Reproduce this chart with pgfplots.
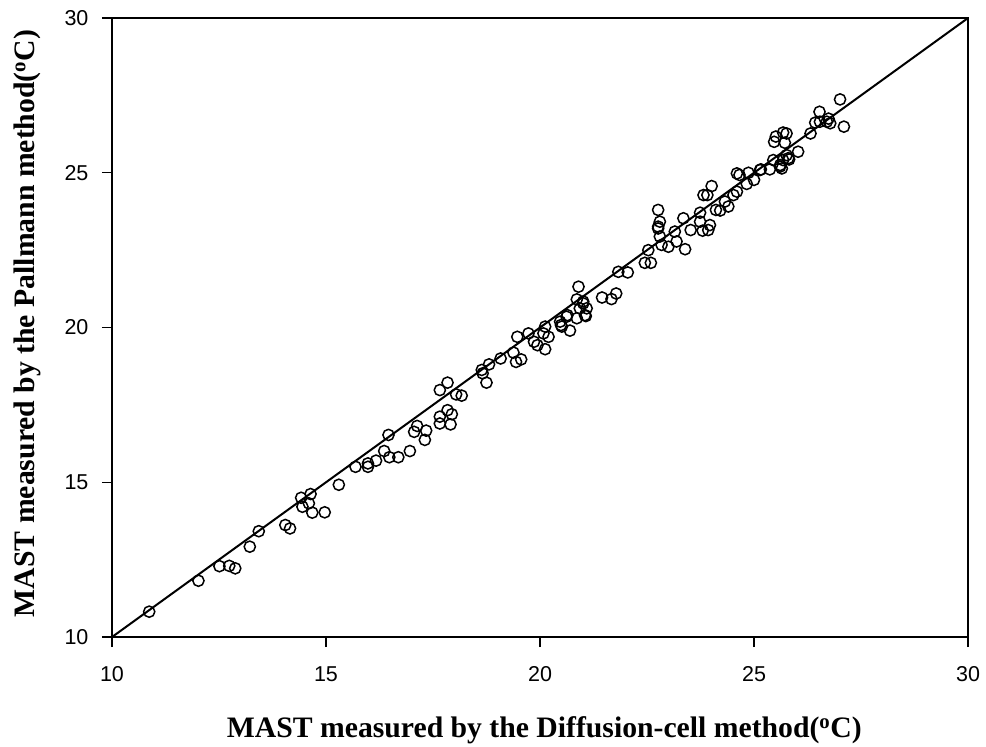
\documentclass[border=0pt]{standalone}
\usepackage{pgfplots}
\pgfplotsset{compat=1.18}
\usepackage{fontspec}
\setmainfont{Liberation Serif}
\newfontfamily\arialfont{Liberation Sans}
\begin{document}
\begin{tikzpicture}
\begin{axis}[
  scale only axis,
  width=856pt, height=619pt,
  xmin=10, xmax=30, ymin=10, ymax=30,
  xtick={10,15,20,25,30}, ytick={10,15,20,25,30},
  tick pos=left, tick align=outside,
  major tick length=10pt,
  axis line style={line width=1.4pt},
  every tick/.style={line width=1.4pt, black},
  /pgf/number format/assume math mode=true,
  tick label style={font=\arialfont\fontsize{21.5}{25}\selectfont},
  xticklabel style={anchor=base, yshift=-34pt},
  yticklabel style={xshift=-10pt},
  label style={font=\bfseries\fontsize{29.7}{34}\selectfont},
  xlabel={MAST measured by the Diffusion-cell method(\textsuperscript{o}C)},
  ylabel={MAST measured by the Pallmann method(\textsuperscript{o}C)},
  xlabel style={at={(axis description cs:0.505,-0.1616)}, anchor=base},
  ylabel style={at={(axis description cs:-0.0905,0.5065)}, anchor=base},
  clip=false,
]
\addplot[black, line width=2pt, no marks] coordinates {(10,10) (30,30)};
\addplot[only marks, mark=o, mark size=5.6pt, mark options={line width=1.5pt, fill=white, draw=black}] table {
x y
10.87 10.82
12.02 11.82
12.51 12.29
12.74 12.30
12.88 12.22
13.22 12.92
13.43 13.42
14.05 13.62
14.16 13.51
14.42 14.50
14.64 14.62
14.60 14.32
14.45 14.21
14.68 14.02
14.97 14.03
15.30 14.92
15.69 15.50
15.98 15.61
15.98 15.50
16.17 15.70
16.36 16.01
16.48 15.81
16.69 15.81
16.96 16.01
16.46 16.53
17.06 16.63
17.13 16.82
17.34 16.67
17.31 16.37
17.66 17.98
17.84 18.22
17.66 17.12
17.84 17.33
17.94 17.20
17.66 16.90
17.91 16.87
18.04 17.84
18.17 17.80
18.64 18.63
18.66 18.52
18.81 18.81
18.75 18.22
19.08 19.00
19.38 19.19
19.47 19.70
19.44 18.89
19.56 18.97
19.73 19.81
19.86 19.54
19.94 19.43
20.08 19.81
20.12 20.03
20.20 19.70
20.12 19.30
20.49 20.08
20.47 20.19
20.70 19.90
20.64 20.40
20.86 20.30
20.93 20.62
21.05 20.40
21.01 20.84
20.90 21.32
20.86 20.91
21.01 20.78
21.09 20.62
20.51 20.03
20.62 20.35
21.07 20.37
21.45 20.97
21.67 20.92
21.78 21.10
21.83 21.80
22.05 21.78
22.45 22.09
22.59 22.09
22.53 22.50
22.76 23.26
22.80 22.94
22.84 22.67
23.00 22.61
23.15 23.10
23.19 22.78
22.76 23.80
22.80 23.42
22.76 23.20
23.35 23.53
23.39 22.53
23.52 23.15
23.74 23.71
23.74 23.42
23.80 23.13
23.93 23.15
23.97 23.31
23.82 24.28
23.91 24.28
24.01 24.57
24.11 23.80
24.21 23.78
24.32 24.07
24.40 23.91
24.52 24.28
24.60 24.39
24.60 24.98
24.66 24.93
24.87 25.00
24.83 24.64
25.00 24.77
25.16 25.11
25.37 25.11
25.45 25.41
25.61 25.20
25.68 25.41
25.76 25.57
25.80 25.47
26.03 25.68
25.14 25.09
25.65 25.14
25.61 25.25
25.82 25.43
25.68 26.30
25.76 26.27
25.51 26.17
25.47 26.00
25.72 25.97
26.32 26.27
26.43 26.62
26.54 26.65
26.53 26.97
26.74 26.75
26.78 26.60
26.70 26.65
27.01 27.37
27.10 26.49
};
\path (axis description cs:-0.1308,-0.1729) rectangle (axis description cs:1.0210,1.0291);
\end{axis}
\end{tikzpicture}
\end{document}
